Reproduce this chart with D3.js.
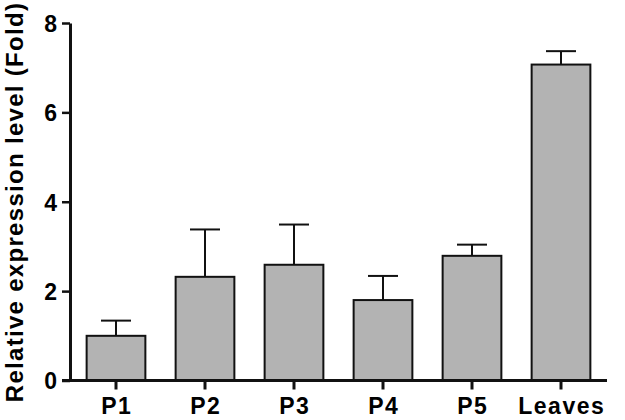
<!DOCTYPE html>
<html>
<head>
<meta charset="utf-8">
<script src="https://cdn.jsdelivr.net/npm/d3@7"></script>
<style>
  body { margin: 0; background: #fff; }
  text { font-family: "Liberation Sans", Arial, sans-serif; font-weight: bold; fill: #000; }
</style>
</head>
<body>
<div id="chart"></div>
<script>
/**
 * DATA
 * */
const categories = ["P1", "P2", "P3", "P4", "P5", "Leaves"];
const values = [1.0, 2.32, 2.59, 1.80, 2.79, 7.07];
const errors = [0.34, 1.06, 0.90, 0.54, 0.25, 0.30];
const yTicks = [0, 2, 4, 6, 8];

/**
 * CONSTANTS
 * */
const width = 625,
  height = 420,
  margin = { top: 23, bottom: 39.5, left: 70, right: 18 };

const svg = d3.select("#chart")
  .append("svg")
  .attr("width", width)
  .attr("height", height);

const data = categories.map((c, i) => ({ name: c, value: values[i], err: errors[i] }));

const x = d3.scaleBand()
  .domain(categories)
  .range([margin.left + 1.5, width - margin.right - 1.5])
  .paddingInner(0.34)
  .paddingOuter(0.17);

const y = d3.scaleLinear()
  .domain([0, 8])
  .range([height - margin.bottom, margin.top]);

// bars
svg.selectAll("rect.bar")
  .data(data)
  .join("rect")
  .attr("class", "bar")
  .attr("x", d => x(d.name))
  .attr("y", d => y(d.value))
  .attr("width", x.bandwidth())
  .attr("height", d => y(0) - y(d.value))
  .attr("fill", "#b3b3b3")
  .attr("stroke", "#111")
  .attr("stroke-width", 2);

// error bars (upper only)
const capHalf = 15;
const errG = svg.selectAll("g.err")
  .data(data)
  .join("g")
  .attr("class", "err")
  .attr("stroke", "#111")
  .attr("stroke-width", 2);

errG.append("line")
  .attr("x1", d => x(d.name) + x.bandwidth() / 2)
  .attr("x2", d => x(d.name) + x.bandwidth() / 2)
  .attr("y1", d => y(d.value))
  .attr("y2", d => y(d.value + d.err));

errG.append("line")
  .attr("x1", d => x(d.name) + x.bandwidth() / 2 - capHalf)
  .attr("x2", d => x(d.name) + x.bandwidth() / 2 + capHalf)
  .attr("y1", d => y(d.value + d.err))
  .attr("y2", d => y(d.value + d.err));

// y axis
const yAxis = svg.append("g")
  .attr("transform", `translate(${margin.left},0)`)
  .call(d3.axisLeft(y).tickValues(yTicks).tickSize(8).tickPadding(5).tickSizeOuter(0));

yAxis.select(".domain").attr("stroke", "#111").attr("stroke-width", 3);
yAxis.selectAll(".tick line").attr("stroke", "#111").attr("stroke-width", 2.5);
yAxis.selectAll(".tick text")
  .style("font-size", "23px")
  .attr("dy", "0.36em");

// x axis
const xAxis = svg.append("g")
  .attr("transform", `translate(0,${y(0)})`)
  .call(d3.axisBottom(x).tickSize(9).tickPadding(7).tickSizeOuter(0));

xAxis.select(".domain")
  .attr("d", `M${margin.left - 8},0H${width - margin.right}`)
  .attr("stroke", "#111")
  .attr("stroke-width", 3);
xAxis.selectAll(".tick line").attr("stroke", "#111").attr("stroke-width", 3);
xAxis.selectAll(".tick text")
  .style("font-size", "23px")
  .style("letter-spacing", "1.5px")
  .attr("dx", "0.75")
  .attr("dy", "0.75em");

// y title
svg.append("text")
  .attr("transform", `translate(23,202) rotate(-90)`)
  .attr("text-anchor", "middle")
  .style("font-size", "24px")
  .style("letter-spacing", "1.3px")
  .text("Relative expression level (Fold)");
</script>
</body>
</html>
